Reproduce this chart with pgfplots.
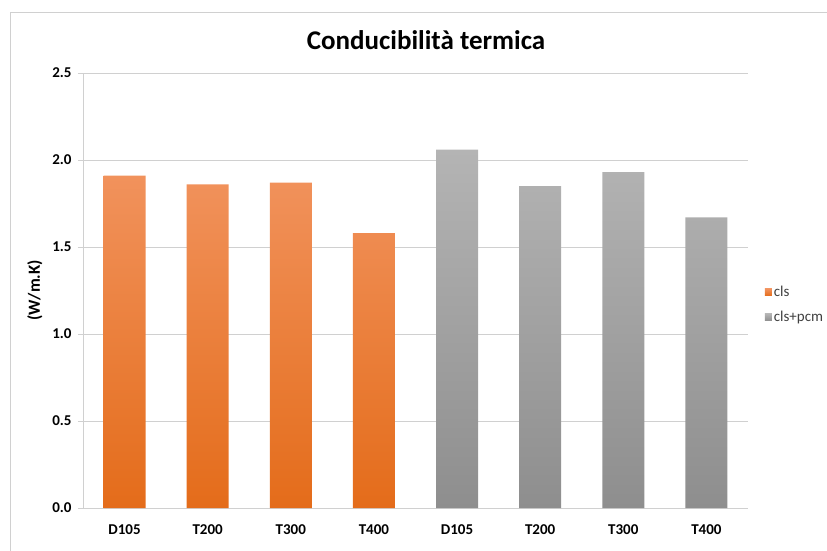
\documentclass[border=0pt]{standalone}
\usepackage{pgfplots}
\pgfplotsset{compat=1.18}
\usepackage{fontspec}
\setmainfont{Carlito}
\definecolor{orTop}{HTML}{F1925C}
\definecolor{orBot}{HTML}{E46C1A}
\definecolor{grTop}{HTML}{B4B4B4}
\definecolor{grBot}{HTML}{8E8E8E}
\definecolor{gridc}{HTML}{D0D0D0}
\definecolor{legtxt}{HTML}{404040}

\begin{document}
\begin{tikzpicture}
\path[use as bounding box] (0pt,0pt) rectangle (827pt,550pt);
\draw[gridc,line width=0.8pt] (10pt,-50pt) -- (10pt,538pt) -- (900pt,538pt);
\node[font=\bfseries\fontsize{27}{30}\selectfont] at (426pt,510pt) {Conducibilità termica};
\begin{axis}[
  at={(83pt,42pt)}, anchor=south west,
  scale only axis, width=665pt, height=435pt,
  xmin=-0.5, xmax=7.5, ymin=0, ymax=2.5,
  ytick={0,0.5,...,2.5},
  /pgf/number format/fixed, /pgf/number format/fixed zerofill,
  /pgf/number format/precision=1, /pgf/number format/assume math mode=true,
  xtick={0,...,7},
  xticklabels={D105,T200,T300,T400,D105,T200,T300,T400},
  ticklabel style={font=\bfseries\fontsize{15}{18}\selectfont},
  axis y line*=left, axis x line*=bottom,
  axis line style={gridc,-},
  ymajorgrids, grid style={gridc,line width=0.8pt},
  xtick style={draw=none},
  ytick style={draw=gridc,line width=0.8pt},
  tick align=outside, major tick length=5pt,
  ylabel={(W/m.K)},
  every axis y label/.style={at={(ticklabel cs:0.5)},rotate=90,anchor=south,yshift=3pt,
    font=\bfseries\fontsize{17}{20}\selectfont},
  yticklabel style={xshift=-3pt},
  xticklabel style={yshift=-8pt},
  ybar, bar width=42pt,
  legend style={draw=none, at={(axis description cs:1.025,0.467)}, anchor=west,
    font=\fontsize{15}{18}\selectfont, text=legtxt, row sep=9pt, inner sep=0pt},
  legend cell align=left,
]
\addplot[bar shift=0pt, draw=none, top color=orTop, bottom color=orBot,
  legend image code/.code={\fill[orBot!85!orTop] (0pt,-3.5pt) rectangle (7pt,3.5pt);}]
  coordinates {(0,1.91) (1,1.86) (2,1.87) (3,1.58)};
\addlegendentry{cls}
\addplot[bar shift=0pt, draw=none, top color=grTop, bottom color=grBot,
  legend image code/.code={\fill[grTop!60!grBot] (0pt,-3.5pt) rectangle (7pt,3.5pt);}]
  coordinates {(4,2.06) (5,1.85) (6,1.93) (7,1.67)};
\addlegendentry{cls+pcm}
\end{axis}
\end{tikzpicture}
\end{document}
